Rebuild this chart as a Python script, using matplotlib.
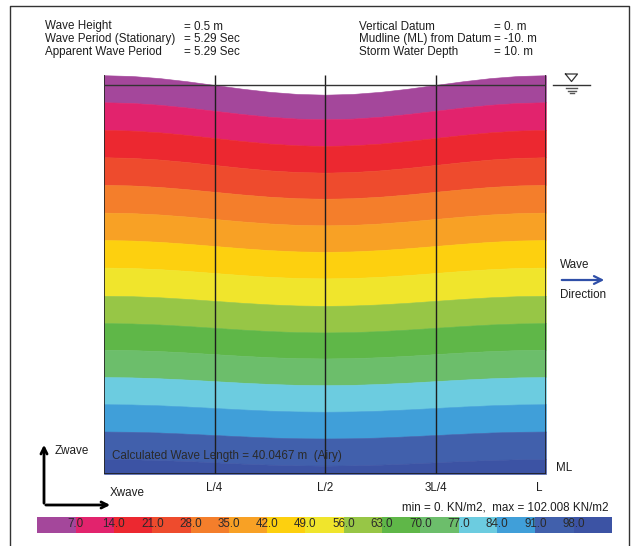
import numpy as np
import matplotlib as mpl
import matplotlib.pyplot as plt
from matplotlib.colors import ListedColormap, BoundaryNorm

plt.rcParams['font.family'] = ['Liberation Sans', 'DejaVu Sans']
FS = 8.4
INK = '#1e1e1e'

# ---- data ----
wave_length = 40.0467          # m
mudline = -10.0                # m
crest = 0.25                   # m above SWL
# stations from crest (x=0) to trough (x=L/2), every L/16; the other half is the mirror image
station_frac = [0, 1/16, 2/16, 3/16, 4/16, 5/16, 6/16, 7/16, 8/16]
surface_half = [0.25, 0.231, 0.177, 0.096, 0.0, -0.096, -0.177, -0.231, -0.25]

levels = [7, 14, 21, 28, 35, 42, 49, 56, 63, 70, 77, 84, 91, 98]
# depth (m) of each pressure contour at the stations above
contour_half = [
    [-0.445, -0.462, -0.509, -0.580, -0.664, -0.747, -0.818, -0.865, -0.882],
    [-1.157, -1.173, -1.217, -1.284, -1.363, -1.441, -1.508, -1.552, -1.568],
    [-1.859, -1.874, -1.917, -1.981, -2.057, -2.132, -2.196, -2.239, -2.254],
    [-2.569, -2.583, -2.621, -2.679, -2.747, -2.815, -2.873, -2.912, -2.925],
    [-3.281, -3.294, -3.329, -3.382, -3.445, -3.508, -3.561, -3.597, -3.609],
    [-3.987, -3.999, -4.032, -4.081, -4.139, -4.197, -4.246, -4.279, -4.291],
    [-4.693, -4.704, -4.734, -4.779, -4.833, -4.887, -4.932, -4.962, -4.973],
    [-5.419, -5.429, -5.457, -5.499, -5.549, -5.599, -5.641, -5.669, -5.679],
    [-6.122, -6.131, -6.157, -6.196, -6.242, -6.288, -6.327, -6.353, -6.362],
    [-6.807, -6.816, -6.840, -6.876, -6.919, -6.962, -6.998, -7.022, -7.031],
    [-7.509, -7.517, -7.540, -7.573, -7.613, -7.653, -7.686, -7.709, -7.717],
    [-8.206, -8.213, -8.234, -8.266, -8.303, -8.340, -8.372, -8.393, -8.400],
    [-8.908, -8.915, -8.934, -8.964, -8.998, -9.032, -9.062, -9.081, -9.088],
    [-9.615, -9.622, -9.640, -9.667, -9.700, -9.733, -9.760, -9.779, -9.785],
]
band_colors = ['#A4479B', '#E2236D', '#EC2830', '#EE4B2D', '#F47E2B',
               '#F8A125', '#FDD00F', '#F0E52C', '#97C646', '#5FB748',
               '#6CBE6B', '#6CCCE0', '#409FD9', '#4160AC', '#3C53A4']
p_min, p_max = 0.0, 102.008

header_left = [("Wave Height", "= 0.5 m"),
               ("Wave Period (Stationary)", "= 5.29 Sec"),
               ("Apparent Wave Period", "= 5.29 Sec")]
header_right = [("Vertical Datum", "= 0. m"),
                ("Mudline (ML) from Datum", "= -10. m"),
                ("Storm Water Depth", "= 10. m")]
x_labels = ["L/4", "L/2", "3L/4", "L"]
x_label_frac = [0.25, 0.5, 0.75, 0.985]

# ---- figure ----
W, H = 639, 546
fig = plt.figure(figsize=(W / 100, H / 100), dpi=100)
fig.patch.set_facecolor('white')


def px_box(x0, y0, x1, y1):
    # pixel box (top-left origin) -> figure fraction rect
    return [x0 / W, 1 - y1 / H, (x1 - x0) / W, (y1 - y0) / H]


# overlay for annotations in pixel coords
ov = fig.add_axes([0, 0, 1, 1])
ov.set_xlim(0, W)
ov.set_ylim(H, 0)
ov.axis('off')

# main wave section
ax = fig.add_axes(px_box(104, 65.5, 546, 474))
ax.set_xlim(0, wave_length)
ax.set_ylim(mudline, 0.5)
ax.axis('off')

half_x = list(station_frac)
x = np.array(half_x + [1 - f for f in half_x[-2::-1]]) * wave_length
surface_z = surface_half + surface_half[-2::-1]
contours = [row + row[-2::-1] for row in contour_half]
bounds = [surface_z] + contours + [[mudline] * len(x)]
for i, c in enumerate(band_colors):
    ax.fill_between(x, bounds[i + 1], bounds[i], color=c, lw=0.4, ec=c)

ax.vlines([wave_length / 4, wave_length / 2, 3 * wave_length / 4],
          mudline, crest, color=INK, lw=1, zorder=3)
ax.vlines([0, wave_length], mudline, crest, color=INK, lw=1.2, zorder=3)
ax.hlines(mudline, 0, wave_length, color=INK, lw=1.2, zorder=3)
ax.hlines(0, 0, wave_length, color='#333333', lw=1, zorder=3)

ax.text(0.018 * wave_length, -9.55,
        f"Calculated Wave Length = {wave_length} m  (Airy)",
        fontsize=FS, color='#2a2a2a', ha='left', va='center')
for lab, fr in zip(x_labels, x_label_frac):
    ax.text(fr * wave_length, -10.36, lab, fontsize=FS, color=INK,
            ha='center', va='center', clip_on=False)

# header block
for i, (k, v) in enumerate(header_left):
    y = 29.5 + 12.8 * i
    ov.text(45, y, k, fontsize=FS, color=INK, va='baseline')
    ov.text(184, y, v, fontsize=FS, color=INK, va='baseline')
for i, (k, v) in enumerate(header_right):
    y = 29.5 + 12.8 * i
    ov.text(359, y, k, fontsize=FS, color=INK, va='baseline')
    ov.text(494, y, v, fontsize=FS, color=INK, va='baseline')

# outer frame (bottom edge runs off the picture)
ov.plot([10, 10, 628.5, 628.5], [H + 5, 6, 6, H + 5], color='#333333', lw=1)

# still water level symbol
ov.plot([565.5, 577.5, 571.5, 565.5], [74, 74, 81.5, 74], color='#333333', lw=0.9)
ov.plot([553, 590], [85, 85], color='#333333', lw=1)
ov.plot([566, 577], [88, 88], color='#555555', lw=1)
ov.plot([567.5, 575.5], [90.5, 90.5], color='#555555', lw=1)
ov.plot([569.5, 573.5], [93, 93], color='#555555', lw=1)

# wave direction
ov.text(560, 268, "Wave", fontsize=FS, color=INK, va='baseline')
ov.text(560, 297.5, "Direction", fontsize=FS, color=INK, va='baseline')
ov.annotate('', xy=(607, 280), xytext=(559, 280),
            arrowprops=dict(arrowstyle='->', color='#2F4FA8', lw=1.6, mutation_scale=14))

# axes indicator
ov.annotate('', xy=(44, 442), xytext=(44, 506),
            arrowprops=dict(arrowstyle='->', color='k', lw=2, mutation_scale=11))
ov.annotate('', xy=(113, 505), xytext=(43, 505),
            arrowprops=dict(arrowstyle='->', color='k', lw=2, mutation_scale=11))
ov.text(55, 454, "Zwave", fontsize=FS, color=INK, va='baseline')
ov.text(110, 496, "Xwave", fontsize=FS, color=INK, va='baseline')
ov.text(556, 471, "ML", fontsize=FS, color=INK, va='baseline')
ov.text(609, 511, f"min = {p_min:.0f}. KN/m2,  max = {p_max} KN/m2",
        fontsize=FS, color=INK, va='baseline', ha='right')

# colour legend
cax = fig.add_axes(px_box(37.3, 516.7, 612, 533.3))
edges = [0] + levels + [105]
cb = mpl.colorbar.ColorbarBase(cax, cmap=ListedColormap(band_colors),
                               norm=BoundaryNorm(edges, len(band_colors)),
                               orientation='horizontal', ticks=[])
cb.outline.set_visible(False)
cb.ax.minorticks_off()
cax.tick_params(which='both', length=0, labelbottom=False)
for lv in levels:
    cax.text(lv, 0.56, f"{lv:.1f}", transform=cax.get_xaxis_transform(),
             fontsize=FS, color='#2a2a2a', ha='center', va='center')

fig.savefig('out.png', dpi=100)
